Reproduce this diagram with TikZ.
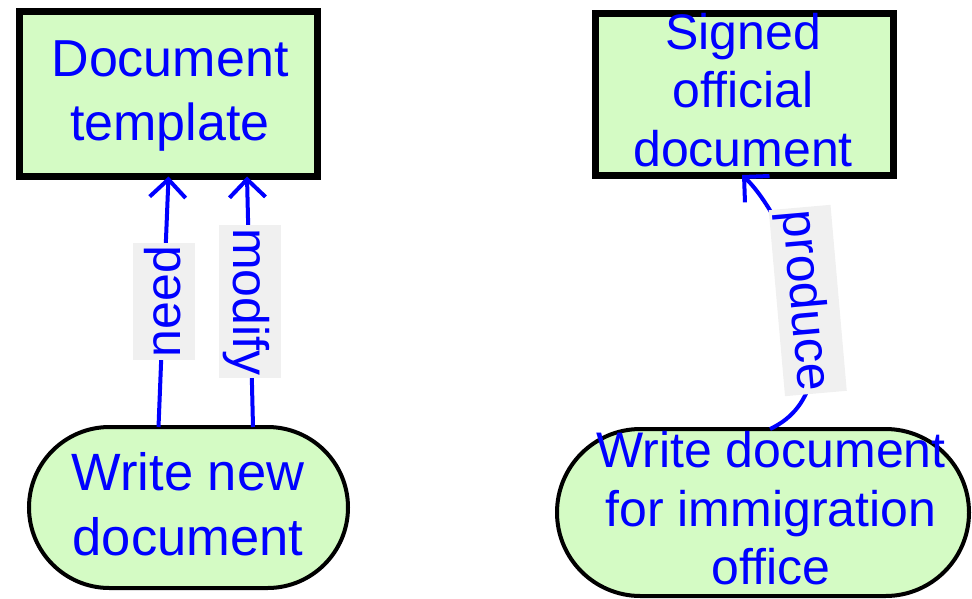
\documentclass[tikz,border=0pt]{standalone}
\usepackage{fontspec}
\setmainfont{Liberation Sans}
\usetikzlibrary{arrows.meta,shapes.misc,calc}

\definecolor{boxgreen}{RGB}{212,251,196}
\definecolor{textblue}{RGB}{0,0,255}
\definecolor{labelgray}{RGB}{240,240,240}

\tikzset{
  thingbox/.style={rectangle, draw=black, line width=7pt, fill=boxgreen,
    inner sep=0pt, outer sep=0pt},
  actionbox/.style={rounded rectangle, draw=black, line width=4pt, fill=boxgreen,
    inner sep=0pt, outer sep=0pt},
  boxtext/.style={text=textblue, align=center, inner sep=0pt},
  link/.style={draw=textblue, line width=4pt,
    -{Straight Barb[length=18pt,width=36pt]}},
  linklabel/.style={fill=labelgray, text=textblue,
    font=\fontsize{50}{60}\selectfont, text height=45pt, text depth=11pt,
    inner xsep=3pt, inner ysep=3pt},
}

\begin{document}
\begin{tikzpicture}[x=1pt, y=-1pt]
  \useasboundingbox (0,0) rectangle (972,598);

  % artefacts
  \node[thingbox, minimum width=298pt, minimum height=165pt] (d1) at (168.5,94) {};
  \node[thingbox, minimum width=298pt, minimum height=162pt] (s2) at (744,94) {};

  % activities
  \node[actionbox, minimum width=319pt, minimum height=161pt] (w1) at (188.5,507.5) {};
  \node[actionbox, minimum width=412pt, minimum height=167pt] (w2) at (763,512.5) {};

  % captions
  \node[boxtext, font=\fontsize{52}{64}\selectfont] (d1t) at (170,96) {Document\\template};
  \node[boxtext, font=\fontsize{50}{58.5}\selectfont] (s2t) at (743,90) {Signed\\official\\document};
  \node[boxtext, font=\fontsize{52.5}{65}\selectfont] (w1t) at (188,504) {Write new\\document};
  \node[boxtext, font=\fontsize{50}{58.5}\selectfont] (w2t) at (771,508.5) {Write document\\for immigration\\office};

  % relations
  \draw[link] ($(w1.north)+(-30,0)$) -- node[linklabel, rotate=90] {need} (d1.south);
  \draw[link] ($(w1.north)+(64.5,0)$) -- node[linklabel, rotate=-90] {modify} ($(d1.south)+(78.5,0)$);
  \draw[link] ($(w2.north)+(7,0)$) .. controls (865,385) and (785,215) .. ($(s2.south)+(-2,0)$)
    node[linklabel, rotate=-85, pos=0.5] {produce};
\end{tikzpicture}
\end{document}
